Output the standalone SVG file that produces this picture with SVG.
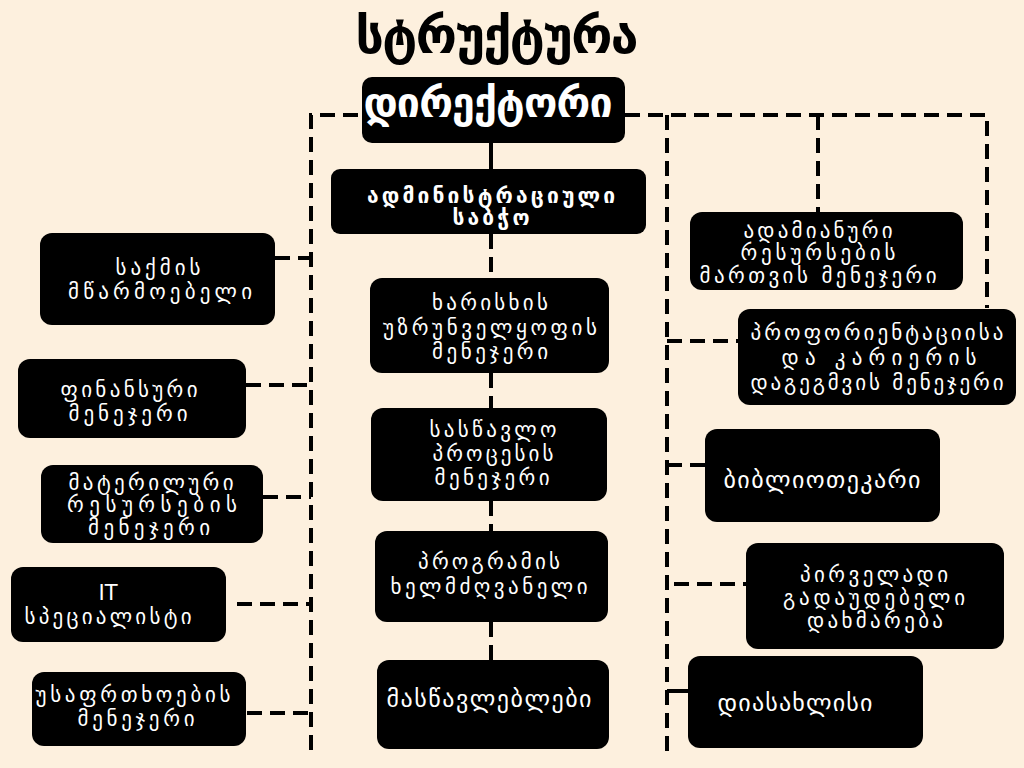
<svg xmlns="http://www.w3.org/2000/svg" width="1024" height="768" viewBox="0 0 1024 768">
<style>
.bg{fill:#FDF0DE}
.box{fill:#000}
.t{font-family:"DejaVu Sans",sans-serif;font-size:21px;fill:#fff;text-anchor:middle}
.s{font-size:24px}
.b{font-weight:bold}
.ln{stroke:#000;stroke-width:4;fill:none;stroke-dasharray:15 8}
.sl{stroke:#000;stroke-width:4;fill:none}
</style>
<rect class="bg" x="0" y="0" width="1024" height="768"/>
<text x="497" y="53" textLength="283" lengthAdjust="spacing" style="font-family:'DejaVu Sans',sans-serif;font-size:50px;font-weight:bold;fill:#000;text-anchor:middle">სტრუქტურა</text>
<g id="connectors">
<path class="ln" d="M311 750 V115 H362"/>
<path class="ln" d="M625 115 H987 V308"/>
<path class="ln" d="M667 115 V752"/>
<path class="ln" d="M818 115 V212"/>
<path class="sl" d="M491 143 V169"/>
<path class="ln" d="M491 234 V278"/>
<path class="ln" d="M491 373 V408"/>
<path class="ln" d="M491 501 V531"/>
<path class="ln" d="M491 622 V660"/>
<path class="ln" d="M275 258 H311"/>
<path class="ln" d="M246 385 H311"/>
<path class="ln" d="M263 497 H311"/>
<path class="ln" d="M237 604 H311"/>
<path class="ln" d="M247 713 H311"/>
<path class="ln" d="M667 341 H738"/>
<path class="ln" d="M667 465 H705"/>
<path class="ln" d="M674 584 H746"/>
<path class="sl" d="M667 691 H688"/>
</g>
<g id="director"><rect class="box" x="362" y="77" width="263" height="66" rx="10"/><text class="t b" x="488" y="117" textLength="249" lengthAdjust="spacing" style="font-size:41px">დირექტორი</text></g>
<g id="admin"><rect class="box" x="331" y="169" width="315" height="65" rx="9"/><text class="t b" x="491" y="203" textLength="248" lengthAdjust="spacing">ადმინისტრაციული</text><text class="t b" x="491" y="225" textLength="77" lengthAdjust="spacing">საბჭო</text></g>
<g id="clerk"><rect class="box" x="40" y="233" width="235" height="92" rx="12"/><text class="t" x="158" y="275" textLength="85" lengthAdjust="spacing">საქმის</text><text class="t" x="160" y="299" textLength="184" lengthAdjust="spacing">მწარმოებელი</text></g>
<g id="finance"><rect class="box" x="18" y="359" width="228" height="79" rx="12"/><text class="t" x="129" y="397" textLength="137" lengthAdjust="spacing">ფინანსური</text><text class="t" x="128" y="421" textLength="119" lengthAdjust="spacing">მენეჯერი</text></g>
<g id="material"><rect class="box" x="41" y="465" width="222" height="78" rx="12"/><text class="t" x="151" y="490" textLength="165" lengthAdjust="spacing">მატერილური</text><text class="t" x="152" y="512" textLength="170" lengthAdjust="spacing">რესურსების</text><text class="t" x="149" y="535" textLength="122" lengthAdjust="spacing">მენეჯერი</text></g>
<g id="it"><rect class="box" x="11" y="567" width="215" height="75" rx="12"/><text class="t" x="108" y="600">IT</text><text class="t" x="108" y="624" textLength="167" lengthAdjust="spacing">სპეციალისტი</text></g>
<g id="safety"><rect class="box" x="32" y="672" width="214" height="74" rx="12"/><text class="t" x="133" y="702" textLength="195" lengthAdjust="spacing">უსაფრთხოების</text><text class="t" x="136" y="726" textLength="117" lengthAdjust="spacing">მენეჯერი</text></g>
<g id="quality"><rect class="box" x="370" y="278" width="239" height="95" rx="12"/><text class="t" x="490" y="310" textLength="116" lengthAdjust="spacing">ხარისხის</text><text class="t" x="490" y="335" textLength="214" lengthAdjust="spacing">უზრუნველყოფის</text><text class="t" x="490" y="359" textLength="116" lengthAdjust="spacing">მენეჯერი</text></g>
<g id="learning"><rect class="box" x="371" y="408" width="236" height="93" rx="12"/><text class="t" x="493" y="437" textLength="127" lengthAdjust="spacing">სასწავლო</text><text class="t" x="493" y="461" textLength="121" lengthAdjust="spacing">პროცესის</text><text class="t" x="492" y="485" textLength="115" lengthAdjust="spacing">მენეჯერი</text></g>
<g id="program"><rect class="box" x="375" y="531" width="233" height="91" rx="12"/><text class="t" x="489" y="569" textLength="142" lengthAdjust="spacing">პროგრამის</text><text class="t" x="489" y="594" textLength="197" lengthAdjust="spacing">ხელმძღვანელი</text></g>
<g id="teachers"><rect class="box" x="377" y="660" width="232" height="89" rx="12"/><text class="t s" x="489" y="707" textLength="205" lengthAdjust="spacing">მასწავლებლები</text></g>
<g id="hr"><rect class="box" x="690" y="212" width="273" height="78" rx="12"/><text class="t" x="818" y="238" textLength="149" lengthAdjust="spacing">ადამიანური</text><text class="t" x="818" y="260" textLength="155" lengthAdjust="spacing">რესურსების</text><text class="t" x="818" y="283" textLength="237" lengthAdjust="spacing">მართვის მენეჯერი</text></g>
<g id="career"><rect class="box" x="738" y="309" width="278" height="96" rx="12"/><text class="t" x="877" y="340" textLength="253" lengthAdjust="spacing">პროფორიენტაციისა</text><text class="t" x="879" y="365" textLength="195" lengthAdjust="spacing">და კარიერის</text><text class="t" x="877" y="390" textLength="253" lengthAdjust="spacing">დაგეგმვის მენეჯერი</text></g>
<g id="librarian"><rect class="box" x="705" y="429" width="235" height="93" rx="12"/><text class="t s" x="822" y="488" textLength="197" lengthAdjust="spacing">ბიბლიოთეკარი</text></g>
<g id="firstaid"><rect class="box" x="746" y="543" width="258" height="106" rx="12"/><text class="t" x="874" y="582" textLength="148" lengthAdjust="spacing">პირველადი</text><text class="t" x="874" y="605" textLength="182" lengthAdjust="spacing">გადაუდებელი</text><text class="t" x="875" y="628" textLength="136" lengthAdjust="spacing">დახმარება</text></g>
<g id="housekeeper"><rect class="box" x="688" y="656" width="235" height="92" rx="12"/><text class="t s" x="795" y="711" textLength="155" lengthAdjust="spacing">დიასახლისი</text></g>
</svg>
